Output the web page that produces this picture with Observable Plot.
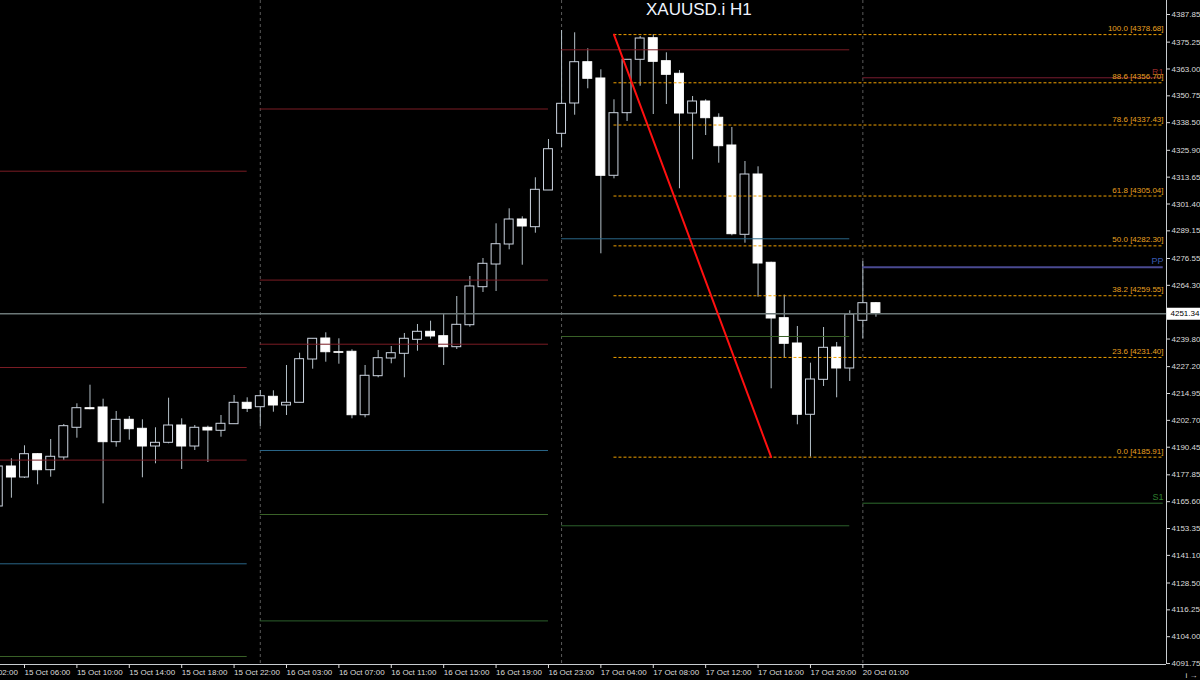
<!DOCTYPE html>
<html><head><meta charset="utf-8">
<script src="https://cdn.jsdelivr.net/npm/d3@7"></script>
<script src="https://cdn.jsdelivr.net/npm/@observablehq/plot@0.6"></script>
<style>
html,body{margin:0;padding:0;background:#000;}
#wrap{position:relative;width:1200px;height:680px;overflow:hidden;background:#000;}
#title{position:absolute;left:646px;top:0px;font:17px "Liberation Sans",Arial,sans-serif;color:#eef4ff;white-space:nowrap;}
</style></head><body>
<div id="wrap"><div id="chart"></div><div id="title">XAUUSD.i H1</div></div>
<script>
// ---- data ----
const sessions = [["15 Oct",4,23],["16 Oct",1,23],["17 Oct",1,23],["20 Oct",1,2]];
const opens = [4163.40,4181.65,4176.63,4187.26,4179.96,4185.76,4199.31,4208.25,4208.57,4192.74,
4202.95,4198.85,4190.77,4192.46,4200.35,4190.77,4199.31,4197.94,4200.95,4210.71,
4208.70,4213.45,4209.48,4210.71,4230.46,4240.04,4233.79,4233.98,4205.05,4222.85,
4230.92,4233.06,4239.45,4243.10,4241.09,4236.08,4246.11,4263.45,4273.80,4282.93,
4294.33,4290.82,4307.56,4333.43,4347.25,4366.09,4358.66,4314.27,4342.83,4367.19,
4377.04,4366.55,4360.80,4342.69,4348.16,4340.73,4328.09,4287.35,4314.86,4274.58,
4249.31,4237.76,4205.24,4221.20,4235.94,4226.36,4248.12,4256.15];
const highs = [4182.56,4185.16,4191.09,4187.50,4193.97,4200.81,4210.25,4218.74,4212.35,4206.74,
4204.46,4202.95,4199.31,4212.81,4203.41,4200.35,4200.04,4204.92,4214.04,4212.99,
4216.32,4216.19,4227.73,4233.34,4239.91,4242.64,4239.91,4234.89,4227.73,4234.57,
4236.39,4242.33,4246.43,4247.94,4251.45,4259.20,4268.33,4276.54,4292.37,4299.21,
4295.56,4313.36,4330.83,4380.55,4379.50,4372.21,4362.63,4348.94,4367.19,4377.82,
4378.68,4370.38,4362.31,4350.44,4348.94,4342.55,4336.30,4320.79,4318.37,4274.85,
4259.80,4245.52,4228.78,4245.06,4238.22,4252.68,4275.17,4256.47];
const lows = [4162.49,4167.19,4176.18,4173.30,4176.77,4184.39,4194.56,4207.52,4164.63,4190.46,
4193.65,4176.50,4182.88,4192.01,4180.28,4188.95,4183.48,4195.02,4200.95,4206.29,
4199.90,4206.42,4204.92,4210.71,4226.04,4229.23,4228.32,4203.41,4203.87,4222.12,
4228.50,4222.12,4234.25,4239.73,4227.73,4235.03,4245.20,4261.03,4261.49,4280.51,
4273.48,4288.08,4307.56,4327.04,4341.91,4353.96,4278.68,4312.90,4339.04,4355.14,
4342.23,4346.80,4308.34,4321.57,4332.65,4320.02,4286.90,4283.52,4258.89,4217.10,
4231.24,4200.67,4185.91,4218.15,4212.99,4220.43,4239.91,4249.76];
const closes = [4181.65,4176.63,4187.26,4179.96,4186.08,4200.04,4208.25,4207.79,4192.74,4202.95,
4198.67,4190.77,4192.46,4200.35,4190.77,4199.31,4198.07,4201.13,4210.71,4207.97,
4213.72,4209.48,4210.71,4230.60,4239.91,4233.79,4233.52,4205.05,4223.03,4231.06,
4233.34,4239.91,4243.10,4240.96,4236.08,4246.29,4263.77,4274.12,4283.06,4294.33,
4291.14,4307.88,4326.40,4347.11,4366.09,4358.52,4314.27,4342.83,4367.19,4376.90,
4366.27,4360.34,4342.69,4348.16,4340.55,4327.77,4287.63,4314.86,4274.26,4249.17,
4237.63,4205.24,4221.34,4235.80,4226.36,4250.99,4256.15,4251.34];

// daily pivot levels (indicator)
const pivotDay   = ["15 Oct","15 Oct","15 Oct","15 Oct","15 Oct",
                    "16 Oct","16 Oct","16 Oct","16 Oct","16 Oct","16 Oct",
                    "17 Oct","17 Oct","17 Oct","17 Oct",
                    "20 Oct","20 Oct","20 Oct"];
const pivotName  = ["R3","R2","R1","PP","S1",
                    "R3","R2","R1","PP","S1","S2",
                    "R1","PP","S1","S2",
                    "R1","PP","S1"];
const pivotValue = [4316.37,4226.81,4184.57,4137.26,4094.97,
                    4344.74,4266.69,4237.44,4188.95,4159.75,4111.21,
                    4371.75,4285.53,4240.96,4154.60,
                    4358.98,4272.57,4164.91];

// Fibonacci retracement
const fibPct    = [100.0, 88.6, 78.6, 61.8, 50.0, 38.2, 23.6, 0.0];
const fibLevels = [4378.68,4356.70,4337.43,4305.04,4282.30,4259.55,4231.40,4185.91];
const fibFrom = "17 Oct 05:00";
const trendTo = "17 Oct 17:00";

// axes
const yTicks = [4387.85,4375.25,4363.00,4350.75,4338.50,4325.90,4313.65,4301.40,4289.15,4276.55,4264.30,
                4239.80,4227.20,4214.95,4202.70,4190.45,4177.85,4165.60,4153.35,4141.10,4128.50,4116.25,4104.00,4091.75];
const xTickLabels = ["15 Oct 02:00","15 Oct 06:00","15 Oct 10:00","15 Oct 14:00","15 Oct 18:00","15 Oct 22:00",
                     "16 Oct 03:00","16 Oct 07:00","16 Oct 11:00","16 Oct 15:00","16 Oct 19:00","16 Oct 23:00",
                     "17 Oct 04:00","17 Oct 08:00","17 Oct 12:00","17 Oct 16:00","17 Oct 20:00","20 Oct 01:00"];

// ---- build ----
const bars = [];
{ let k = 0;
  for (const [day,h0,h1] of sessions) for (let h=h0; h<=h1; h++) {
    bars.push({i:k, day, time:`${day} ${String(h).padStart(2,"0")}:00`,
      open:opens[k], high:highs[k], low:lows[k], close:closes[k]}); k++; } }
const idxOf = new Map(bars.map(b=>[b.time,b.i]));
// tick index: off-screen 15 Oct 02:00 sits 2 bars before the first bar
const tickIdx = xTickLabels.map(t => idxOf.has(t) ? idxOf.get(t) : -2);
const tickLabel = new Map(tickIdx.map((v,j)=>[v, xTickLabels[j]]));

const xDomain = [0.168, 89.18];
const yDomain = [4091.32, 4394.24];
const xMin = xDomain[0], xMax = xDomain[1];

const days = sessions.map(s=>s[0]);
const dayFirst = d => d3.min(bars.filter(b=>b.day===d), b=>b.i);
const dayLast  = d => d3.max(bars.filter(b=>b.day===d), b=>b.i);
const separators = bars.filter((b,j)=> j>0 && b.day!==bars[j-1].day).map(b=>b.i);

const pivots = pivotValue.map((v,j)=>({day:pivotDay[j], name:pivotName[j], value:v}));
const lastDay = days[days.length-1];
const pivotX1 = d => d.day===days[0] ? xMin-1 : dayFirst(d.day);
const pivotX2 = d => d.day===lastDay ? xMax-0.25 : dayLast(d.day);
const pivotColor = d => {
  if (d.day===lastDay) return d.name==="PP" ? "#4a4a92" : d.name==="R1" ? "#7a1c30" : "#2e6b2e";
  if (d.name[0]==="R") return "#7a1c24";
  if (d.name==="PP") return "#2a6688";
  if (d.name==="S1") return "#3a6228";
  return "#2c602c";
};
const pivotLabelColor = n => n==="PP" ? "#3a5ab0" : n[0]==="R" ? "#902a2a" : "#2e7e2e";

const fib = fibPct.map((p,j)=>({pct:p, level:fibLevels[j]}));
const fibStart = idxOf.get(fibFrom);
const trend = [{i:idxOf.get(fibFrom), p:fibLevels[0]}, {i:idxOf.get(trendTo), p:fibLevels[fibLevels.length-1]}];
const lastClose = closes[closes.length-1];

const chart = Plot.plot({
  width:1200, height:680, marginLeft:0, marginRight:34, marginTop:0, marginBottom:16,
  x:{domain:xDomain, axis:null}, y:{domain:yDomain, axis:null},
  color:{type:"identity"},
  style:{background:"#000", color:"#d8d8d8", fontFamily:"'Liberation Sans', Arial, sans-serif", fontSize:"8px", overflow:"hidden"},
  marks:[
    Plot.ruleX(separators, {stroke:"#5a5a5a", strokeDasharray:"3,3"}),
    // candles
    Plot.ruleX(bars, {x:"i", y1:"low", y2:"high", stroke:"#b4c0c8"}),
    Plot.rect(bars, {x1:d=>d.i-0.34, x2:d=>d.i+0.34, y1:"open", y2:"close",
      fill:d=>d.close<d.open ? "#ffffff" : "#000000",
      stroke:d=>d.close<d.open ? "#ffffff" : "#ccd4e0", strokeWidth:1}),
    // pivots
    Plot.ruleY(pivots, {y:"value", x1:pivotX1, x2:pivotX2, stroke:pivotColor,
      strokeWidth:d=>d.day===lastDay && d.name==="PP" ? 2 : 1}),
    Plot.text(pivots.filter(d=>d.day===lastDay), {x:xMax, y:"value", text:"name", dx:-3, dy:-6,
      textAnchor:"end", fill:d=>pivotLabelColor(d.name), fontSize:9}),
    // current price line
    Plot.ruleY([lastClose], {stroke:"#6c7878", strokeWidth:1.5}),
    // fibonacci
    Plot.ruleY(fib, {y:"level", x1:fibStart, x2:xMax-0.25, stroke:"#f0a000", strokeDasharray:"3,2"}),
    Plot.text(fib, {x:xMax, y:"level", text:d=>`${d.pct.toFixed(1)} [${d.level.toFixed(2)}]`,
      dx:-3, dy:-6, textAnchor:"end", fill:"#e8a020", fontSize:8}),
    Plot.line(trend, {x:"i", y:"p", stroke:"#ff1010", strokeWidth:2}),
    // axes
    Plot.ruleX([xMax], {stroke:"#c8ccd0"}),
    Plot.ruleY([yDomain[0]], {stroke:"#c8ccd0"}),
    Plot.axisY({anchor:"right", ticks:yTicks, tickFormat:d=>d.toFixed(2), tickSize:3, tickPadding:2, color:"#dcdcdc", fontSize:8}),
    Plot.axisX({anchor:"bottom", ticks:tickIdx, tickFormat:d=>tickLabel.get(d), textAnchor:"start", tickSize:4, tickPadding:1, color:"#dcdcdc", fontSize:8}),
    // current price box
    Plot.ruleY([lastClose], {x1:xMax+0.05, x2:xMax+2.6, stroke:"#ffffff", strokeWidth:12}),
    Plot.text([lastClose], {x:xMax, y:d=>d, text:d=>d.toFixed(2), dx:4, textAnchor:"start", fill:"#000", fontSize:8})
  ]
});
document.getElementById("chart").appendChild(chart);
</script>
</body></html>
